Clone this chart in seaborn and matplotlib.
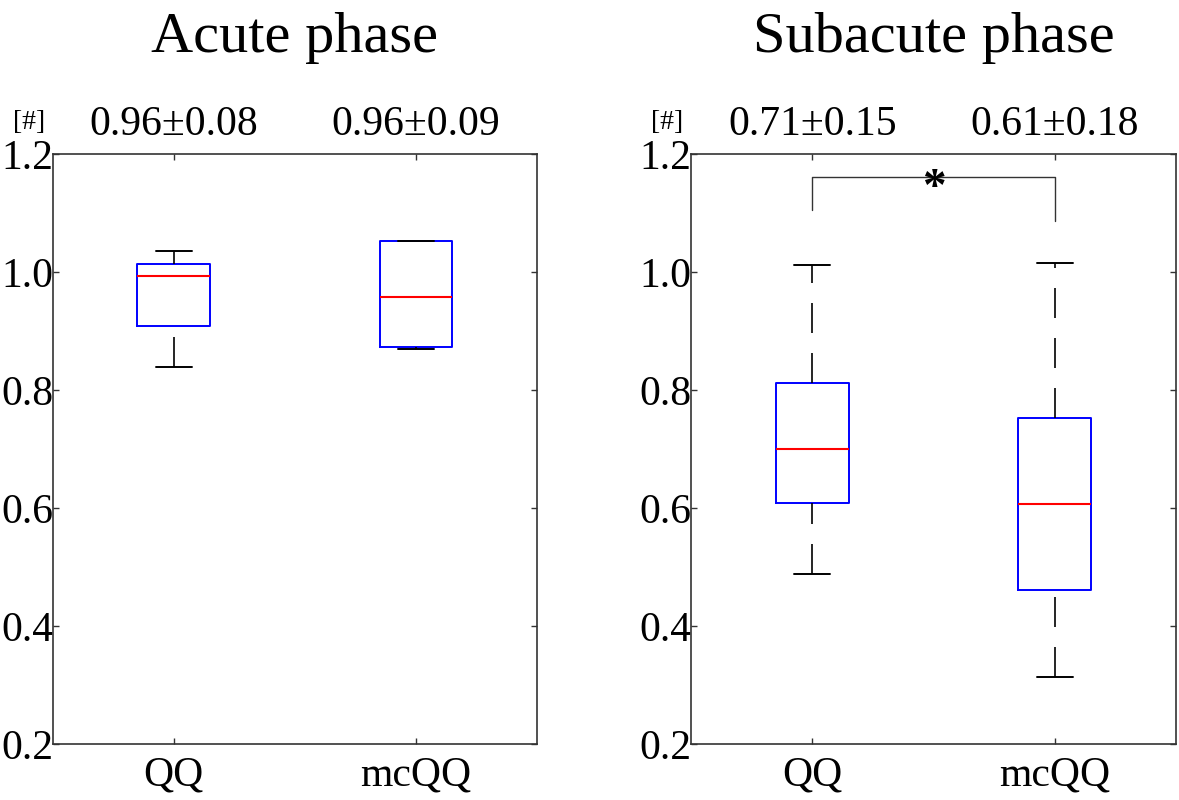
import numpy as np
import pandas as pd
import matplotlib
matplotlib.use("Agg")
import matplotlib.pyplot as plt
import seaborn as sns

# five-number summaries (min, q1, median, q3, max)
methods = ["QQ", "mcQQ"]
acute_qq = [0.839, 0.909, 0.994, 1.013, 1.036]
acute_mcqq = [0.870, 0.873, 0.957, 1.053, 1.053]
subacute_qq = [0.488, 0.609, 0.701, 0.8125, 1.012]
subacute_mcqq = [0.314, 0.461, 0.607, 0.753, 1.016]

acute_labels = ["0.96\u00b10.08", "0.96\u00b10.09"]
subacute_labels = ["0.71\u00b10.15", "0.61\u00b10.18"]
titles = ["Acute phase", "Subacute phase"]
yticks = [0.2, 0.4, 0.6, 0.8, 1.0, 1.2]

sns.set_theme(style="white")
plt.rcParams["font.family"] = ["Liberation Serif", "DejaVu Serif"]
plt.rcParams["text.color"] = "black"


def make_df(qq, mcqq):
    return pd.DataFrame({
        "method": ["QQ"] * len(qq) + ["mcQQ"] * len(mcqq),
        "value": list(qq) + list(mcqq),
    })


fig = plt.figure(figsize=(11.79, 8.0), dpi=100)
ax1 = fig.add_axes([0.0447, 0.0694, 0.4108, 0.7381])
ax2 = fig.add_axes([0.5861, 0.0694, 0.4114, 0.7381])

panels = [
    (ax1, make_df(acute_qq, acute_mcqq), acute_labels, titles[0]),
    (ax2, make_df(subacute_qq, subacute_mcqq), subacute_labels, titles[1]),
]

for ax, df, labels, title in panels:
    sns.boxplot(
        data=df, x="method", y="value", order=methods, ax=ax,
        width=0.3, whis=(0, 100), fill=False, color="blue", linewidth=1.4,
        boxprops=dict(color="blue", linewidth=1.4),
        medianprops=dict(color="red", linewidth=1.5),
        whiskerprops=dict(color="black", linewidth=1.2, linestyle=(0, (18, 12))),
        capprops=dict(color="black", linewidth=1.4),
        showfliers=False,
    )
    # dash pattern should start from the lower end of each whisker
    for ln in ax.lines:
        x = np.asarray(ln.get_xdata(), dtype=float)
        y = np.asarray(ln.get_ydata(), dtype=float)
        if len(x) == 2 and x[0] == x[1] and y[0] > y[1]:
            ln.set_ydata(y[::-1])

    ax.set_xlim(-0.5, 1.5)
    ax.set_ylim(0.2, 1.2)
    ax.set_yticks(yticks)
    ax.set_yticklabels([f"{t:.1f}" for t in yticks])
    ax.set_xlabel("")
    ax.set_ylabel("")
    for s in ax.spines.values():
        s.set_visible(True)
        s.set_color("#333333")
        s.set_linewidth(1.2)
    ax.tick_params(axis="y", direction="in", left=True, right=True, length=4,
                   width=1, color="#333333", labelcolor="black",
                   labelsize=30, pad=-0.5)
    ax.tick_params(axis="x", direction="in", bottom=True, top=True, length=4,
                   width=1, color="#333333", labelcolor="black",
                   labelsize=30, pad=8)

    for i, lab in enumerate(labels):
        ax.annotate(lab, xy=(i, 1), xycoords=("data", "axes fraction"),
                    xytext=(0, 13.5), textcoords="offset points",
                    ha="center", va="baseline", fontsize=30)
    ax.annotate("[#]", xy=(0, 1), xycoords="axes fraction",
                xytext=(-17, 18), textcoords="offset points",
                ha="center", va="baseline", fontsize=20)

    bb = ax.get_position()
    fig.text((bb.x0 + bb.x1) / 2, 0.935, title, ha="center", va="baseline",
             fontsize=42)

# significance bracket on the subacute panel
ax2.plot([0, 0, 1, 1], [1.106, 1.161, 1.161, 1.087], color="#333333", lw=1)
ax2.text(0.5, 1.122, "*", ha="center", va="baseline", fontsize=34,
         fontweight="bold")

fig.savefig("out.png", dpi=100)
